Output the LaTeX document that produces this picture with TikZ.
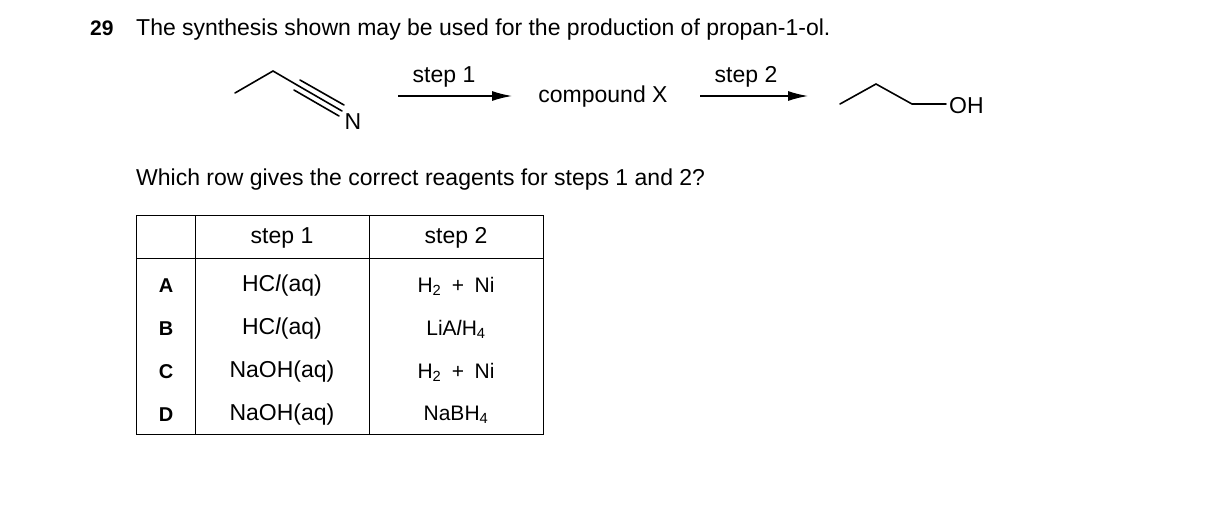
\documentclass[tikz,border=0pt]{standalone}
\usepackage{fontspec}
\setmainfont{Liberation Sans}
\usetikzlibrary{arrows.meta}
\begin{document}
\begin{tikzpicture}[x=1pt,y=-1pt,
  txt/.style={font=\fontsize{23}{27}\selectfont, inner sep=0pt},
  bond/.style={line width=1.6pt, line cap=round},
  arr/.style={line width=1.4pt,-{Latex[length=20pt,width=10pt]}},
  grid/.style={line width=1pt}]
\useasboundingbox (0,0) rectangle (1216,504);
\node[txt,anchor=base west,font=\fontsize{21}{24}\selectfont\bfseries] (num) at (90,35) {29};
\node[txt,anchor=base west] (q) at (136,35) {The synthesis shown may be used for the production of propan-1-ol.};
% nitrile
\coordinate (n1) at (235,93);
\coordinate (n2) at (273,71);
\coordinate (n3) at (297,85);
\node[txt] (N) at (353,122) {N};
\draw[bond] (n1) -- (n2) -- (n3);
\draw[bond] (n3) -- (342,111);
\draw[bond] (300,80) -- (344,105);
\draw[bond] (294,90) -- (339,116);
% arrows
\coordinate (a1s) at (398,96); \coordinate (a1e) at (512,96);
\draw[arr] (a1s) -- (a1e);
\node[txt] (s1) at (444,77) {step 1};
\node[txt] (X) at (603,97) {compound X};
\coordinate (a2s) at (700,96); \coordinate (a2e) at (808,96);
\draw[arr] (a2s) -- (a2e);
\node[txt] (s2) at (746,77) {step 2};
% propanol
\coordinate (p1) at (840,104);
\coordinate (p2) at (876,84);
\coordinate (p3) at (912,104);
\node[txt,anchor=west] (OH) at (949,106) {OH};
\draw[bond] (p1) -- (p2) -- (p3) -- (946,104);
\node[txt,anchor=base west] (q2) at (136,185) {Which row gives the correct reagents for steps 1 and 2?};
% table
\draw[grid] (136,215) rectangle (543,434);
\draw[grid] (195,215) -- (195,434);
\draw[grid] (369,215) -- (369,434);
\draw[grid] (136,258) -- (543,258);
\node[txt] (h1) at (282,238) {step 1};
\node[txt] (h2) at (456,238) {step 2};
\foreach \l/\a/\b/\y in {A/HC\textit{l}(aq)/H\textsubscript{2}\enspace+\enspace Ni/286,
                         B/HC\textit{l}(aq)/LiA\textit{l}H\textsubscript{4}/329,
                         C/NaOH(aq)/H\textsubscript{2}\enspace+\enspace Ni/372,
                         D/NaOH(aq)/NaBH\textsubscript{4}/415}{
  \node[txt,font=\fontsize{20}{24}\selectfont\bfseries] (r\l) at (166,\y) {\l};
  \node[txt] (s\l) at (282,\y) {\a};
  \node[txt,font=\fontsize{21}{25}\selectfont] (t\l) at (456,\y) {\b};
}
\end{tikzpicture}
\end{document}
